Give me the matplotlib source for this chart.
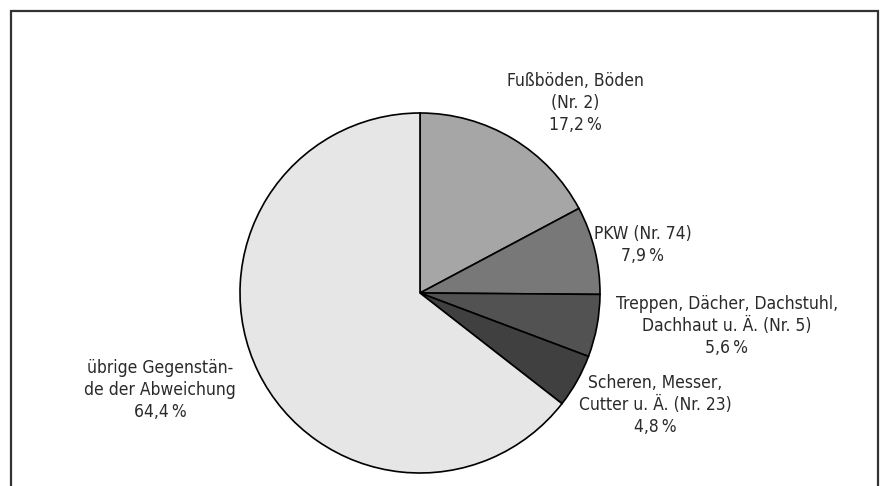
import matplotlib.pyplot as plt
from matplotlib.patches import Rectangle

FONT = ['DejaVu Sans']
plt.rcParams['font.family'] = FONT

categories = ["Fußböden, Böden\n(Nr. 2)", "PKW (Nr. 74)", "Treppen, Dächer, Dachstuhl,\nDachhaut u. Ä. (Nr. 5)",
              "Scheren, Messer,\nCutter u. Ä. (Nr. 23)", "übrige Gegenstän-\nde der Abweichung"]
shares = [17.2, 7.9, 5.6, 4.8, 64.4]
colors = ["#a6a6a6", "#787878", "#525252", "#404040", "#e6e6e6"]

# label centres in pixels (x, y from top)
label_pos = [(575, 103), (643, 245), (727, 326), (655, 405), (160, 390)]

W, H = 887, 486
fig = plt.figure(figsize=(W / 100, H / 100), dpi=100)

cx, cy, r = 420, 293, 180
ax = fig.add_axes([(cx - r) / W, (H - cy - r) / H, 2 * r / W, 2 * r / H])
ax.pie(shares, colors=colors, startangle=90, counterclock=False,
       wedgeprops=dict(edgecolor="black", linewidth=1.2))
ax.set_xlim(-1, 1)
ax.set_ylim(-1, 1)
ax.set_aspect("auto")
ax.axis("off")

for name, val, (px, py) in zip(categories, shares, label_pos):
    pct = f"{val:.1f}".replace(".", ",")
    txt = f"{name}\n{pct}\u2009%"
    fig.text(px / W, 1 - py / H, txt, ha="center", va="center", fontsize=12.5,
             color="#2a2a2a", linespacing=1.27, family=FONT, fontstretch='condensed')

frame = Rectangle((11 / W, -0.1), (878 - 11) / W, 1 - 11 / H + 0.1, transform=fig.transFigure,
                  fill=False, edgecolor="#333333", linewidth=1.6)
fig.patches.append(frame)

fig.savefig("out.png", dpi=100)
